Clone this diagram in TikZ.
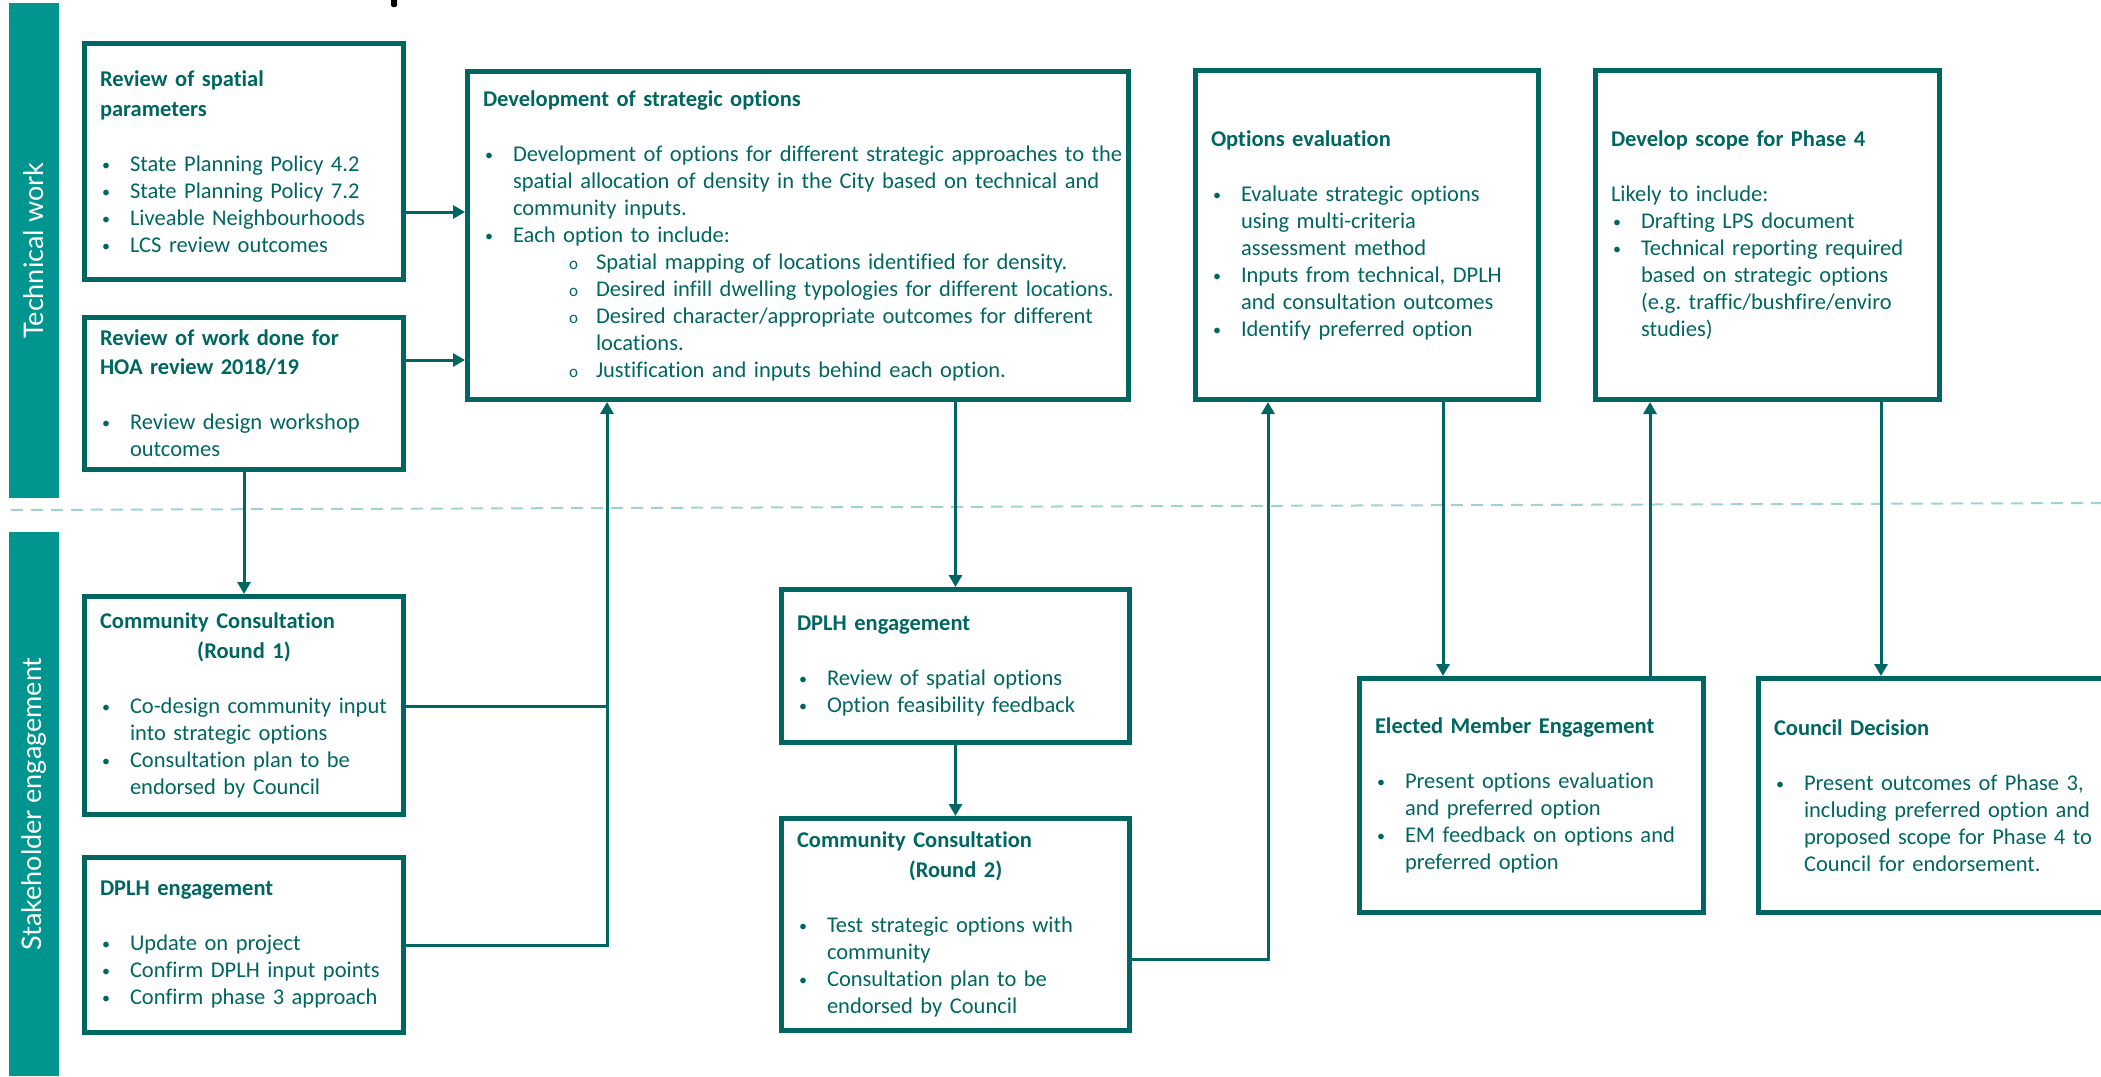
\documentclass[tikz,border=0pt]{standalone}
\usepackage{fontspec}
\setmainfont{Carlito}[Ligatures=NoCommon]
\newfontfamily\bandfont{Lato}
\usetikzlibrary{arrows.meta}
\frenchspacing
\definecolor{tdark}{HTML}{006661}
\definecolor{tband}{HTML}{00968F}
\definecolor{tdash}{HTML}{A0D2D0}
\newcommand\btitle[1]{\mbox{\bfseries #1}}
\newcommand\bdot{\raisebox{1pt}{\fontsize{16}{27}\selectfont\textbullet}}
\newcommand\bitem[1]{\mbox{\makebox[30pt][l]{\hspace{2pt}\bdot}#1}}
\newcommand\bcont[1]{\mbox{\hspace*{30pt}#1}}
\newcommand\sitem[1]{\mbox{\hspace*{86pt}\makebox[27pt][l]{\fontsize{17}{27}\selectfont o}#1}}
\newcommand\scont[1]{\mbox{\hspace*{113pt}#1}}
\begin{document}
\begin{tikzpicture}[x=1pt,y=-1pt,
  box/.style={draw=tdark, line width=5pt, text=tdark, inner sep=0pt, align=left,
    font=\fontsize{22.5}{27}\selectfont},
  conn/.style={draw=tdark, line width=3pt},
  tip/.style={-{Triangle[width=13pt,length=12pt]}},
  band/.style={fill=tband},
  bandtext/.style={rotate=90, text=white, font=\bandfont\fontsize{27}{30}\selectfont}]
\useasboundingbox (0,0) rectangle (2101,1076);
\clip (0,0) rectangle (2101,1076);

% side bands
\fill[band] (9,3) rectangle (59,498);
\fill[band] (9,532) rectangle (59,1076);
\node[bandtext] (t1) at (34,251) {Technical work};
\node[bandtext] (t2) at (34,804) {Stakeholder engagement};

% cut-off mark at top
\fill[black, rounded corners=1.5pt] (391,-3) rectangle (397,7);

% dashed divider
\draw[tdash, line width=2pt, dash pattern=on 12pt off 8pt] (11,510) -- (2101,503);

% boxes
\node[box, minimum width=319pt, minimum height=236pt, text width=288pt] (A) at (244,161.5) {%
\btitle{Review of spatial}\\[3pt]
\btitle{parameters}\\[28pt]
\bitem{State Planning Policy 4.2}\\
\bitem{State Planning Policy 7.2}\\
\bitem{Liveable Neighbourhoods}\\
\bitem{LCS review outcomes}};

\node[box, minimum width=319pt, minimum height=152pt, text width=288pt] (B) at (244,393.5) {%
\btitle{Review of work done for}\\[2pt]
\btitle{HOA review 2018/19}\\[28pt]
\bitem{Review design workshop}\\
\bcont{outcomes}};

\node[box, minimum width=319pt, minimum height=218pt, text width=288pt] (C) at (244,705.5) {%
\btitle{Community Consultation}\\[3pt]
\makebox[\linewidth][c]{\bfseries (Round 1)}\\[28pt]
\bitem{Co-design community input}\\
\bcont{into strategic options}\\
\bitem{Consultation plan to be}\\
\bcont{endorsed by Council}};

\node[box, minimum width=319pt, minimum height=175pt, text width=288pt] (G) at (244,945) {%
\btitle{DPLH engagement}\\[28pt]
\bitem{Update on project}\\
\bitem{Confirm DPLH input points}\\
\bitem{Confirm phase 3 approach}};

\node[box, minimum width=661pt, minimum height=328pt, text width=630pt] (D) at (798,235.5) {%
\btitle{Development of strategic options}\\[28pt]
\bitem{Development of options for different strategic approaches to the}\\
\bcont{spatial allocation of density in the City based on technical and}\\
\bcont{community inputs.}\\
\bitem{Each option to include:}\\
\sitem{Spatial mapping of locations identified for density.}\\
\sitem{Desired infill dwelling typologies for different locations.}\\
\sitem{Desired character/appropriate outcomes for different}\\
\scont{locations.}\\
\sitem{Justification and inputs behind each option.}};

\node[box, minimum width=348pt, minimum height=153pt, text width=317pt] (E) at (955.5,666) {%
\btitle{DPLH engagement}\\[28pt]
\bitem{Review of spatial options}\\
\bitem{Option feasibility feedback}};

\node[box, minimum width=348pt, minimum height=212pt, text width=317pt] (F) at (955.5,924.5) {%
\btitle{Community Consultation}\\[3pt]
\makebox[\linewidth][c]{\bfseries (Round 2)}\\[28pt]
\bitem{Test strategic options with}\\
\bcont{community}\\
\bitem{Consultation plan to be}\\
\bcont{endorsed by Council}};

\node[box, minimum width=343pt, minimum height=329pt, text width=312pt] (O) at (1367,235) {%
\btitle{Options evaluation}\\[28pt]
\bitem{Evaluate strategic options}\\
\bcont{using multi-criteria}\\
\bcont{assessment method}\\
\bitem{Inputs from technical, DPLH}\\
\bcont{and consultation outcomes}\\
\bitem{Identify preferred option}};

\node[box, minimum width=344pt, minimum height=329pt, text width=313pt] (S) at (1767.5,235) {%
\btitle{Develop scope for Phase 4}\\[28pt]
Likely to include:\\
\bitem{Drafting LPS document}\\
\bitem{Technical reporting required}\\
\bcont{based on strategic options}\\
\bcont{(e.g. traffic/bushfire/enviro}\\
\bcont{studies)}};

\node[box, minimum width=344pt, minimum height=234pt, text width=313pt] (H) at (1531.5,795.5) {%
\btitle{Elected Member Engagement}\\[28pt]
\bitem{Present options evaluation}\\
\bcont{and preferred option}\\
\bitem{EM feedback on options and}\\
\bcont{preferred option}};

\node[box, minimum width=364pt, minimum height=234pt, text width=333pt] (I) at (1940.5,795.5) {%
\btitle{Council Decision}\\[28pt]
\bitem{Present outcomes of Phase 3,}\\
\bcont{including preferred option and}\\
\bcont{proposed scope for Phase 4 to}\\
\bcont{Council for endorsement.}};

% connectors
\coordinate (j1) at (607,706);
\draw[conn, tip] (A.east |- 0,212) -- (D.west |- 0,212);
\draw[conn, tip] (B.east |- 0,360) -- (D.west |- 0,360);
\draw[conn, tip] (B.south) -- (C.north);
\draw[conn, tip] (C.east |- j1) -| (D.south -| j1);
\draw[conn] (G.east) -| (j1);
\draw[conn, tip] (D.south -| E.north) -- (E.north);
\draw[conn, tip] (E.south) -- (F.north);
\draw[conn, tip] (F.east |- 0,959) -| (O.south -| 1268,0);
\draw[conn, tip] (O.south -| 1443,0) -- (H.north -| 1443,0);
\draw[conn, tip] (H.north -| 1650,0) -- (S.south -| 1650,0);
\draw[conn, tip] (S.south -| 1881,0) -- (I.north -| 1881,0);
\end{tikzpicture}
\end{document}
